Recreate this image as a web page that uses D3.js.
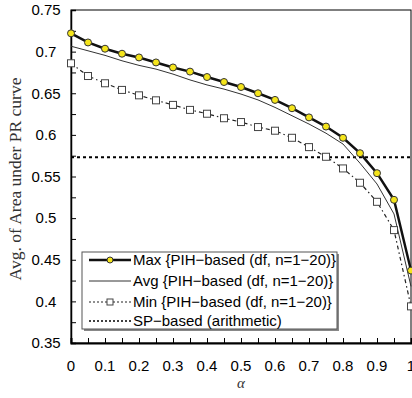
<!DOCTYPE html>
<html>
  <head>
    <script src="https://d3js.org/d3.v7.min.js"></script>
    <style>
      body { margin: 0; background: #fff; }
    </style>
  </head>
  <body>
    <div id="chart"></div>
    <script>
      // values
      var alpha = [0, 0.05, 0.1, 0.15, 0.2, 0.25, 0.3, 0.35, 0.4, 0.45, 0.5,
                   0.55, 0.6, 0.65, 0.7, 0.75, 0.8, 0.85, 0.9, 0.95, 1];
      var maxVals = [0.722, 0.711, 0.7035, 0.6975, 0.693, 0.687, 0.681, 0.676, 0.6695, 0.6635, 0.6575,
                     0.650, 0.642, 0.632, 0.621, 0.610, 0.5965, 0.578, 0.554, 0.522, 0.437];
      var avgVals = [0.7065, 0.701, 0.6955, 0.689, 0.6835, 0.679, 0.673, 0.666, 0.660, 0.655, 0.649,
                     0.642, 0.633, 0.623, 0.613, 0.602, 0.589, 0.566, 0.541, 0.505, 0.418];
      var minVals = [0.686, 0.6707, 0.662, 0.654, 0.6475, 0.6415, 0.636, 0.630, 0.6254, 0.620, 0.6154,
                     0.6094, 0.605, 0.5965, 0.5853, 0.5737, 0.5597, 0.5425, 0.5196, 0.4856, 0.394];
      var spVal = 0.573;
      var yTicks = [0.35, 0.4, 0.45, 0.5, 0.55, 0.6, 0.65, 0.7, 0.75];
      var xTicks = [0, 0.1, 0.2, 0.3, 0.4, 0.5, 0.6, 0.7, 0.8, 0.9, 1];
      var legendLabels = ["Max {PIH\u2212based (df, n=1\u221220)}",
                          "Avg {PIH\u2212based (df, n=1\u221220)}",
                          "Min {PIH\u2212based (df, n=1\u221220)}",
                          "SP\u2212based (arithmetic)"];

      var W = 412, H = 398;
      var plotL = 71, plotR = 411, plotT = 10, plotB = 343;

      var svg = d3.select("#chart").append("svg")
        .attr("width", W).attr("height", H);

      var x = d3.scaleLinear().domain([0, 1]).range([plotL, plotR]);
      var y = d3.scaleLinear().domain([0.35, 0.75]).range([plotB, plotT]);

      var sans = "'Liberation Sans', Arial, sans-serif";
      var serif = "'Liberation Serif', 'Times New Roman', serif";

      // frame
      svg.append("rect")
        .attr("x", plotL).attr("y", plotT)
        .attr("width", plotR - plotL).attr("height", plotB - plotT)
        .attr("fill", "none").attr("stroke", "#000").attr("stroke-width", 1);

      // inward ticks on the left axis
      var yAxis = d3.axisLeft(y).tickValues(d3.range(0.35, 0.7501, 0.025))
        .tickSize(-5).tickFormat("");
      svg.append("g").attr("transform", "translate(" + plotL + ",0)").call(yAxis)
        .call(function(g) {
          g.select(".domain").attr("stroke-width", 1.5);
          g.selectAll(".tick line").attr("stroke-width", 1);
        });

      // inward ticks on the bottom axis
      var xAxis = d3.axisBottom(x).tickValues(d3.range(0, 1.0001, 0.05))
        .tickSize(-5).tickFormat("");
      svg.append("g").attr("transform", "translate(0," + plotB + ")").call(xAxis)
        .call(function(g) {
          g.select(".domain").attr("stroke-width", 2);
          g.selectAll(".tick line").attr("stroke-width", 1);
        });

      // tick labels
      svg.append("g").selectAll("text").data(yTicks).enter().append("text")
        .attr("x", 46).attr("y", function(d) { return y(d); })
        .attr("dy", "0.35em").attr("text-anchor", "middle")
        .attr("font-family", sans).attr("font-size", "15px")
        .text(function(d) { return d; });

      svg.append("g").selectAll("text").data(xTicks).enter().append("text")
        .attr("x", function(d) { return x(d); }).attr("y", 371)
        .attr("text-anchor", "middle")
        .attr("font-family", sans).attr("font-size", "15px")
        .text(function(d) { return d; });

      // axis titles
      svg.append("text")
        .attr("transform", "translate(21,179) rotate(-90)")
        .attr("text-anchor", "middle")
        .attr("font-family", serif).attr("font-size", "17.5px")
        .attr("fill", "#333")
        .text("Avg. of Area under PR curve");

      svg.append("text")
        .attr("x", 241).attr("y", 388)
        .attr("text-anchor", "middle")
        .attr("font-family", serif).attr("font-style", "italic").attr("font-size", "15px")
        .attr("fill", "#333")
        .text("\u03b1");

      var line = d3.line()
        .x(function(d, i) { return x(alpha[i]); })
        .y(function(d) { return y(d); });

      // SP-based reference line
      svg.append("line")
        .attr("x1", x(0)).attr("x2", x(1))
        .attr("y1", y(spVal)).attr("y2", y(spVal))
        .attr("stroke", "#000").attr("stroke-width", 2)
        .attr("stroke-dasharray", "3,3");

      // Min
      svg.append("path").datum(minVals)
        .attr("d", line).attr("fill", "none")
        .attr("stroke", "#222").attr("stroke-width", 1.2)
        .attr("stroke-dasharray", "4,3,1.5,3");

      // Avg
      svg.append("path").datum(avgVals)
        .attr("d", line).attr("fill", "none")
        .attr("stroke", "#333").attr("stroke-width", 1);

      // Max
      svg.append("path").datum(maxVals)
        .attr("d", line).attr("fill", "none")
        .attr("stroke", "#111").attr("stroke-width", 2.5);

      svg.append("g").selectAll("rect").data(minVals).enter().append("rect")
        .attr("x", function(d, i) { return x(alpha[i]) - 3.5; })
        .attr("y", function(d) { return y(d) - 3.5; })
        .attr("width", 7).attr("height", 7)
        .attr("fill", "#fff").attr("stroke", "#444").attr("stroke-width", 1);

      svg.append("g").selectAll("circle").data(maxVals).enter().append("circle")
        .attr("cx", function(d, i) { return x(alpha[i]); })
        .attr("cy", function(d) { return y(d); })
        .attr("r", 3.5)
        .attr("fill", "#f5e51b").attr("stroke", "#333").attr("stroke-width", 1);

      // legend
      var lg = svg.append("g");
      lg.append("rect")
        .attr("x", 84).attr("y", 254).attr("width", 255).attr("height", 77)
        .attr("fill", "#888");
      lg.append("rect")
        .attr("x", 82).attr("y", 252).attr("width", 255).attr("height", 77)
        .attr("fill", "#fff").attr("stroke", "#555").attr("stroke-width", 1);

      var rowY = [260, 281, 302, 321];
      var styles = [
        { stroke: "#111", width: 2.5, dash: null },
        { stroke: "#333", width: 1, dash: null },
        { stroke: "#222", width: 1.2, dash: "2,2" },
        { stroke: "#000", width: 1.5, dash: "2,2" }
      ];
      legendLabels.forEach(function(label, i) {
        lg.append("line")
          .attr("x1", 89).attr("x2", 131)
          .attr("y1", rowY[i]).attr("y2", rowY[i])
          .attr("stroke", styles[i].stroke).attr("stroke-width", styles[i].width)
          .attr("stroke-dasharray", styles[i].dash);
        lg.append("text")
          .attr("x", 133).attr("y", rowY[i]).attr("dy", "0.36em")
          .attr("font-family", sans).attr("font-size", "15px")
          .text(label);
      });
      lg.append("circle")
        .attr("cx", 110).attr("cy", rowY[0]).attr("r", 3)
        .attr("fill", "#f5e51b").attr("stroke", "#333").attr("stroke-width", 1);
      lg.append("rect")
        .attr("x", 107).attr("y", rowY[2] - 3).attr("width", 6).attr("height", 6)
        .attr("fill", "#fff").attr("stroke", "#444").attr("stroke-width", 1);
    </script>
  </body>
</html>
